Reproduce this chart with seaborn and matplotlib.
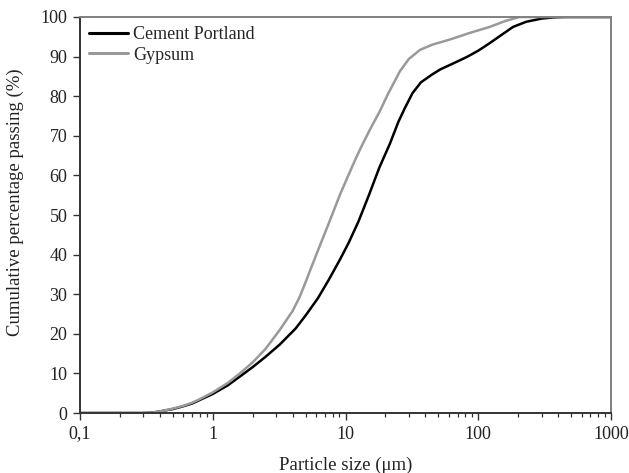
import numpy as np
import pandas as pd
import matplotlib
matplotlib.use("Agg")
import matplotlib.pyplot as plt
import seaborn as sns
from matplotlib.ticker import FixedLocator, FuncFormatter, LogLocator, NullFormatter

cement_size = [0.1, 0.2, 0.3, 0.35, 0.4, 0.5, 0.6, 0.7, 0.8, 1.0, 1.3, 1.6, 2.0, 2.5, 3.2,
               4.2, 5.0, 6.2, 7.5, 9.1, 10.5, 12.5, 15, 18, 21.6, 25, 28, 32, 37, 45,
               52, 65, 82, 100, 122, 150, 183, 230, 300, 370, 450, 1000]
cement_pass = [0, 0, 0, 0.1, 0.4, 1.0, 1.7, 2.4, 3.3, 4.8, 7.0, 9.2, 11.6, 14.2, 17.3,
               21.3, 24.6, 29.0, 33.7, 38.8, 42.8, 48.3, 55, 62, 68, 73.5, 77, 80.8, 83.5, 85.5,
               86.8, 88.3, 89.9, 91.5, 93.4, 95.5, 97.5, 98.8, 99.6, 99.9, 100, 100]

gypsum_size = [0.1, 0.2, 0.3, 0.35, 0.4, 0.5, 0.6, 0.7, 0.8, 1.0, 1.3, 1.6, 2.0, 2.5, 3.2,
               4.0, 4.5, 5.0, 5.5, 6.0, 6.4, 7.3, 8.2, 9.1, 10.5, 12, 13.5, 15.3, 18, 21, 25.7,
               30, 36.4, 45, 61, 86.7, 122, 160, 204, 1000]
gypsum_pass = [0, 0, 0, 0.1, 0.4, 1.1, 1.8, 2.6, 3.5, 5.2, 7.6, 10.0, 12.8, 16.2, 21.0,
               25.8, 29.2, 33, 36.6, 39.8, 42.2, 47.0, 51.3, 55.2, 60.0, 64.4, 68.0, 71.6, 76, 80.7, 86.3,
               89.4, 91.7, 93, 94.3, 96, 97.5, 99, 100, 100]

series_names = ["Cement Portland", "Gypsum"]
x_ticks = [0.1, 1, 10, 100, 1000]
x_tick_labels = ["0,1", "1", "10", "100", "1000"]
y_ticks = [0, 10, 20, 30, 40, 50, 60, 70, 80, 90, 100]

df = pd.concat([
    pd.DataFrame({"size": cement_size, "pass": cement_pass, "material": series_names[0]}),
    pd.DataFrame({"size": gypsum_size, "pass": gypsum_pass, "material": series_names[1]}),
], ignore_index=True)

sns.set_style("ticks")
plt.rcParams["font.family"] = ["Liberation Serif", "DejaVu Serif"]

fig = plt.figure(figsize=(6.29, 4.73), dpi=100)
ax = fig.add_axes([80/629, 1-413/473, (611-80)/629, (413-17)/473])

sns.lineplot(data=df, x="size", y="pass", hue="material",
             palette={series_names[0]: "#000000", series_names[1]: "#999999"},
             linewidth=1.8, ax=ax, sort=False, estimator=None)

ax.set_xscale("log")
ax.set_xlim(0.1, 1000)
ax.set_ylim(0, 100)
ax.xaxis.set_major_locator(FixedLocator(x_ticks))
ax.xaxis.set_major_formatter(FuncFormatter(lambda v, p: x_tick_labels[x_ticks.index(v)] if v in x_ticks else ""))
ax.xaxis.set_minor_locator(LogLocator(base=10, subs=np.arange(2, 10)))
ax.xaxis.set_minor_formatter(NullFormatter())
ax.set_yticks(y_ticks)

ax.tick_params(axis="both", which="major", direction="out", length=5, width=1.0,
               labelsize=13, color="#333333", labelcolor="#222222", pad=4)
ax.tick_params(axis="x", which="minor", direction="out", length=3, width=0.9, color="#333333")

for s in ["left", "bottom"]:
    ax.spines[s].set_color("#333333")
    ax.spines[s].set_linewidth(1.4)
for s in ["top", "right"]:
    ax.spines[s].set_visible(True)
    ax.spines[s].set_color("#808080")
    ax.spines[s].set_linewidth(1.4)

ax.set_xlabel("Particle size (\u03bcm)", fontsize=13.5, color="#222222", labelpad=10)
ax.set_ylabel("Cumulative percentage passing (%)", fontsize=13.5, color="#222222")
ax.yaxis.set_label_coords(-56/531, 0.533)

leg = ax.legend(loc="upper left", frameon=False, fontsize=13, handlelength=2.15,
                borderaxespad=0.1, handletextpad=0.3, labelspacing=0.2)
for line in leg.get_lines():
    line.set_linewidth(2.2)
leg.set_title(None)

fig.savefig("out.png", dpi=100, facecolor="white")
